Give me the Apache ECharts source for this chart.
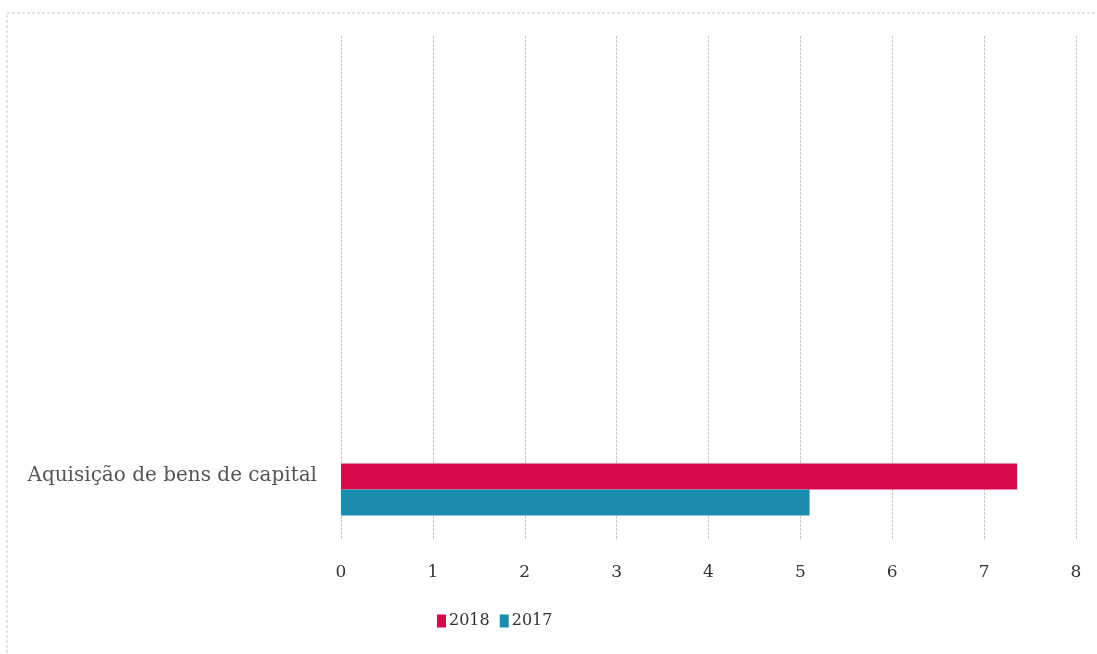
<!DOCTYPE html>
<html><head><meta charset="utf-8">
<script src="https://cdn.jsdelivr.net/npm/echarts@6/dist/echarts.min.js"></script>
<style>html,body{margin:0;padding:0;background:#fff}#c{width:1097px;height:654px}</style>
</head><body><div id="c"></div>
<script>
const categories = ['Aquisição de bens de capital', '', '', '', ''];
const seriesNames = ['2018', '2017'];
const values2018 = [7.36, null, null, null, null];
const values2017 = [5.1, null, null, null, null];
const xTicks = [0, 1, 2, 3, 4, 5, 6, 7, 8];

const chart = echarts.init(document.getElementById('c'));
const font = '"DejaVu Serif", "Liberation Serif", serif';
chart.setOption({
  backgroundColor: '#fff',
  animation: false,
  graphic: [{
    type: 'rect', shape: {x: 7, y: 13, width: 1120, height: 660},
    style: {fill: 'none', stroke: '#c4c4c4', lineWidth: 1, lineDash: [3, 2]}, silent: true
  }],
  grid: {left: 341, right: 21, top: 36, bottom: 114, containLabel: false},
  legend: {
    data: seriesNames, top: 608, left: 432, itemWidth: 9, itemHeight: 13, itemGap: 10,
    icon: 'rect',
    textStyle: {fontFamily: font, fontSize: 16, color: '#333', padding: [0, 0, 0, -2]}
  },
  xAxis: {
    type: 'value', min: xTicks[0], max: xTicks[xTicks.length - 1], interval: 1,
    axisLine: {show: false}, axisTick: {show: false},
    splitLine: {show: true, lineStyle: {color: '#c8c8c8', width: 1, type: [3, 1]}},
    axisLabel: {margin: 24, fontFamily: font, fontSize: 17, color: '#333'}
  },
  yAxis: {
    type: 'category', data: categories,
    axisLine: {show: false}, axisTick: {show: false}, splitLine: {show: false},
    axisLabel: {
      margin: 24, fontFamily: font, fontSize: 20, color: '#555', lineHeight: 28,
      formatter: v => v ? v + '\n' : ''
    }
  },
  series: [
    {name: '2018', type: 'bar', data: values2018, barWidth: 26, barGap: '0%', itemStyle: {color: '#d8094b'}},
    {name: '2017', type: 'bar', data: values2017, barWidth: 26, barGap: '0%', itemStyle: {color: '#1a8db0'}}
  ]
});
</script></body></html>
